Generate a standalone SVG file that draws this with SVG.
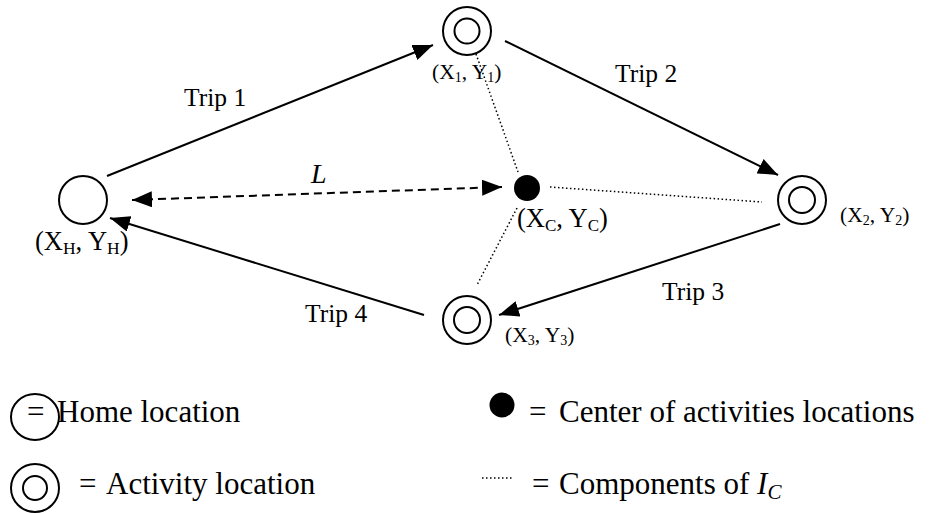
<svg xmlns="http://www.w3.org/2000/svg" width="929" height="513" viewBox="0 0 929 513" font-family="'Liberation Serif', 'Times New Roman', serif">
<style>
text{font-family:'Liberation Serif','Times New Roman',serif;fill:#000}
.ring{fill:#fff;stroke:#000;stroke-width:2}
.trip{stroke:#000;stroke-width:2;fill:none}
.dash{stroke:#000;stroke-width:2;fill:none;stroke-dasharray:8 5}
.dot{stroke:#000;stroke-width:1.5;fill:none;stroke-dasharray:1.5 2.5}
.lbl{font-size:25.5px}
.lg{font-size:31px}
.sm{font-size:21.5px}
.big{font-size:26.5px}
</style>
<defs>
<marker id="ah" markerUnits="userSpaceOnUse" markerWidth="20" markerHeight="16" refX="20" refY="8" orient="auto" viewBox="0 0 20 16">
<path d="M0,0 L20,8 L0,16 z" fill="#000"/>
</marker>
<marker id="ahs" markerUnits="userSpaceOnUse" markerWidth="20" markerHeight="16" refX="0" refY="8" orient="auto" viewBox="0 0 20 16">
<path d="M20,0 L0,8 L20,16 z" fill="#000"/>
</marker>
</defs>
<g id="connectors">
<path class="trip" d="M107,176 L433,45" marker-end="url(#ah)"/>
<path class="trip" d="M505,41 L778,175" marker-end="url(#ah)"/>
<path class="trip" d="M780,224 L499,315" marker-end="url(#ah)"/>
<path class="trip" d="M424,315 L110,218" marker-end="url(#ah)"/>
<path class="dash" d="M132,200 L502,187" marker-start="url(#ahs)" marker-end="url(#ah)"/>
<path class="dot" d="M476,54 L518,172"/>
<path class="dot" d="M550,187 L762,202"/>
<path class="dot" d="M517,208 L477,285"/>
<text class="lbl" x="184" y="106">Trip 1</text>
<text class="lbl" x="615" y="82">Trip 2</text>
<text class="lbl" x="662" y="300">Trip 3</text>
<text class="lbl" x="305" y="322">Trip 4</text>
<text x="311" y="183" font-size="28" font-style="italic">L</text>
</g>
<g id="home">
<circle class="ring" cx="83" cy="200" r="24"/>
<text class="big" x="35" y="250">(X<tspan font-size="17.5" dy="4">H</tspan><tspan dy="-4">, Y</tspan><tspan font-size="17.5" dy="4">H</tspan><tspan dy="-4">)</tspan></text>
</g>
<g id="act1">
<circle class="ring" cx="467" cy="31" r="24"/>
<circle class="ring" cx="467" cy="31" r="12.5"/>
<text class="sm" x="432" y="79">(X<tspan font-size="14" dy="3">1</tspan><tspan dy="-3">, Y</tspan><tspan font-size="14" dy="3">1</tspan><tspan dy="-3">)</tspan></text>
</g>
<g id="act2">
<circle class="ring" cx="802" cy="200" r="24"/>
<circle class="ring" cx="802" cy="200" r="13"/>
<text class="sm" x="840" y="222">(X<tspan font-size="14" dy="3">2</tspan><tspan dy="-3">, Y</tspan><tspan font-size="14" dy="3">2</tspan><tspan dy="-3">)</tspan></text>
</g>
<g id="act3">
<circle class="ring" cx="467" cy="320" r="24"/>
<circle class="ring" cx="467" cy="320" r="13"/>
<text class="sm" x="505" y="342">(X<tspan font-size="14" dy="3">3</tspan><tspan dy="-3">, Y</tspan><tspan font-size="14" dy="3">3</tspan><tspan dy="-3">)</tspan></text>
</g>
<g id="center">
<circle cx="527" cy="188" r="13" fill="#000"/>
<text class="big" x="517" y="227">(X<tspan font-size="17" dy="4">C</tspan><tspan dy="-4">, Y</tspan><tspan font-size="17" dy="4">C</tspan><tspan dy="-4">)</tspan></text>
</g>
<g id="legend">
<ellipse class="ring" cx="35" cy="417" rx="24" ry="23"/>
<text class="lg" x="27" y="422">=</text>
<text class="lg" x="57" y="422">Home location</text>
<circle class="ring" cx="35" cy="488" r="24"/>
<circle class="ring" cx="35" cy="488" r="12"/>
<text class="lg" x="79" y="494">=</text>
<text class="lg" x="106" y="494">Activity location</text>
<circle cx="502" cy="405" r="12.5" fill="#000"/>
<text class="lg" x="529" y="422">=</text>
<text class="lg" x="559" y="422">Center of activities locations</text>
<path class="dot" d="M482,478 L514,478"/>
<text class="lg" x="532" y="494">=</text>
<text class="lg" x="559" y="494">Components of <tspan font-style="italic">I</tspan><tspan font-style="italic" font-size="21" dy="5">C</tspan></text>
</g>
</svg>
